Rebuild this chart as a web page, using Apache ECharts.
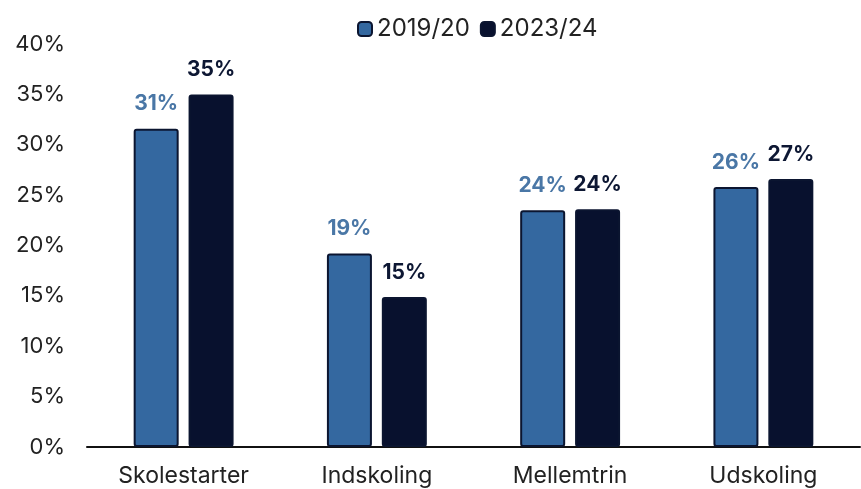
<html>
<head>
<meta charset="utf-8">
<script src="https://cdn.jsdelivr.net/npm/echarts@6/dist/echarts.min.js"></script>
</head>
<body style="margin:0;">
<div id="main" style="width:861px;height:489px;"></div>
<script type="text/javascript">
var categories = ['Skolestarter', 'Indskoling', 'Mellemtrin', 'Udskoling'];
var seriesNames = ['2019/20', '2023/24'];
var values1920 = [31.6, 19.2, 23.5, 25.8];
var values2324 = [35.0, 14.9, 23.6, 26.6];
var labels1920 = ['31%', '19%', '24%', '26%'];
var labels2324 = ['35%', '15%', '24%', '27%'];
var yTicks = [0, 5, 10, 15, 20, 25, 30, 35, 40];

var font = 'Inter, Lato, sans-serif';
var myChart = echarts.init(document.getElementById('main'));

function labelFor(texts, color) {
	return {
		show: true,
		position: 'top',
		distance: 14,
		formatter: function(p) { return texts[p.dataIndex]; },
		color: color,
		fontFamily: font,
		fontWeight: 'bold',
		fontSize: 21
	};
}

myChart.setOption({
	backgroundColor: '#ffffff',
	textStyle: { fontFamily: font },
	legend: {
		data: seriesNames,
		top: 12,
		left: 352,
		itemWidth: 14,
		itemHeight: 14,
		itemGap: 10,
		textStyle: { fontSize: 24, color: '#222', fontFamily: font }
	},
	grid: { left: 87, right: 1, top: 44, bottom: 42 },
	xAxis: {
		type: 'category',
		data: categories,
		axisTick: { show: false },
		axisLine: { lineStyle: { color: '#111', width: 2 } },
		axisLabel: { fontSize: 23, color: '#222', margin: 18, fontFamily: font }
	},
	yAxis: {
		type: 'value',
		min: yTicks[0],
		max: yTicks[yTicks.length - 1],
		interval: 5,
		splitLine: { show: false },
		axisLine: { show: false },
		axisLabel: { fontSize: 22, color: '#222', margin: 22, fontFamily: font, formatter: '{value}%' }
	},
	series: [{
		name: seriesNames[0],
		type: 'bar',
		data: values1920,
		barWidth: 45,
		barGap: '22%',
		itemStyle: { color: '#3468a0', borderColor: '#0b1530', borderWidth: 2, borderRadius: 2 },
		label: labelFor(labels1920, '#4a77a6')
	}, {
		name: seriesNames[1],
		type: 'bar',
		data: values2324,
		barWidth: 45,
		itemStyle: { color: '#08112e', borderColor: '#0b1530', borderWidth: 2, borderRadius: 2 },
		label: labelFor(labels2324, '#0d1733')
	}]
});
</script>
</body>
</html>
